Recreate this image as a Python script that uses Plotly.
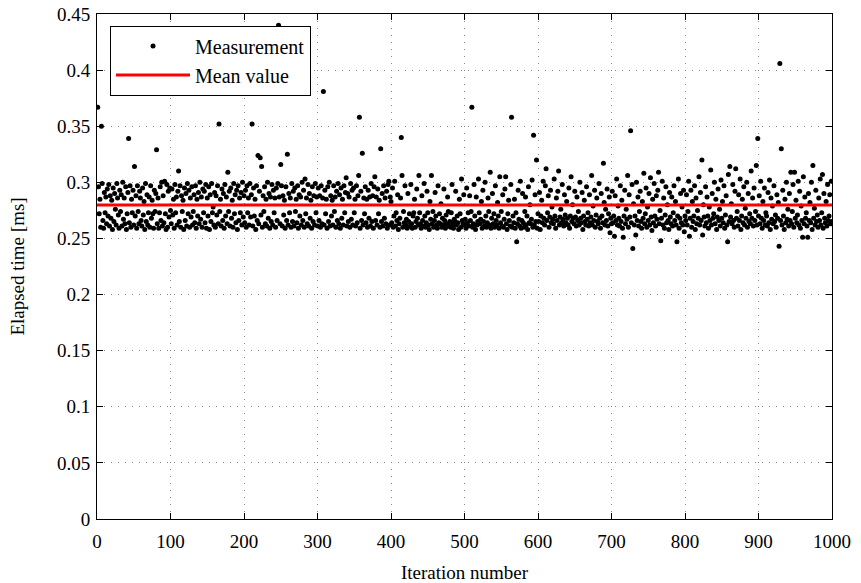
import plotly.graph_objects as go

# Elapsed time per iteration, in microseconds
elapsed_us_block0 = [
    367,296,272,285,260,350,299,266,259,291,
    273,287,263,294,270,298,261,288,268,284,
    258,295,265,290,276,262,299,286,271,259,
    293,274,289,261,300,267,286,263,296,258,
    272,291,339,264,297,260,285,273,293,262,
    314,270,288,259,297,274,263,292,286,266,
    261,295,271,283,258,299,265,289,262,273,
    287,260,297,268,284,272,259,293,274,290,
    329,263,286,259,273,296,266,300,261,288,
    264,301,272,258,298,260,292,269,295,275]
elapsed_us_block1 = [
    263,294,271,285,259,298,273,287,262,292,
    310,265,297,260,288,274,284,258,295,266,
    290,261,299,272,293,260,286,269,296,262,
    274,289,264,297,259,285,270,291,263,300,
    267,287,260,294,273,292,264,298,259,286,
    270,296,258,289,265,299,273,278,262,291,
    260,288,271,297,263,352,274,285,261,294,
    266,290,259,298,270,287,263,309,274,292,
    261,295,268,284,260,299,272,289,264,293,
    258,297,266,286,273,291,262,300,269,288]
elapsed_us_block2 = [
    264,293,260,297,273,286,262,299,269,289,
    352,261,295,270,285,258,297,266,324,263,
    292,322,271,314,260,288,274,296,263,285,
    261,300,268,290,259,287,265,298,262,293,
    273,286,260,295,266,299,440,287,263,316,
    297,261,288,271,284,259,296,266,325,262,
    290,273,286,260,299,265,292,261,295,274,
    285,264,297,259,289,270,287,262,300,266,
    293,260,303,272,286,263,298,261,290,268,
    284,259,296,265,288,262,299,273,287,261]
elapsed_us_block3 = [
    295,266,288,260,297,263,286,381,262,293,
    272,285,259,296,265,300,261,288,270,284,
    262,297,274,287,260,292,266,299,263,289,
    259,295,268,285,262,297,273,291,304,261,
    290,265,287,260,299,267,293,262,295,273,
    285,261,297,264,288,306,358,259,292,266,
    326,262,286,272,296,264,285,260,293,268,
    287,261,299,265,288,259,296,305,266,287,
    262,294,272,284,260,330,265,290,261,297,
    268,286,263,292,259,298,301,262,287,283]
elapsed_us_block4 = [
    264,295,260,270,301,261,273,266,289,258,
    263,268,286,340,306,260,274,264,297,262,
    267,259,290,265,272,261,298,263,259,270,
    273,285,260,265,294,268,262,306,273,263,
    259,288,266,261,299,270,260,264,292,273,
    262,258,283,267,306,263,274,260,266,291,
    270,262,259,297,264,272,263,281,260,268,
    262,294,266,259,271,263,287,274,261,265,
    260,273,298,263,259,267,265,292,262,270,
    264,258,285,272,260,303,266,263,289,262]
elapsed_us_block5 = [
    267,259,295,264,273,261,288,266,274,367,
    260,263,298,270,258,287,262,265,303,273,
    263,267,283,259,293,265,261,300,270,260,
    264,286,274,262,309,259,268,290,263,272,
    260,297,266,262,282,270,259,305,264,274,
    261,289,260,267,294,305,263,258,272,284,
    266,261,298,358,260,270,264,285,259,273,
    247,263,293,267,261,301,259,266,290,264,
    260,274,287,262,270,258,296,264,280,263,
    267,302,260,342,262,289,265,320,259,272]
elapsed_us_block6 = [
    265,291,258,270,284,264,301,268,262,297,
    312,266,273,288,260,269,293,264,278,267,
    263,303,270,259,286,266,292,310,262,269,
    276,264,298,267,261,289,271,264,283,268,
    262,295,259,270,305,265,280,268,263,292,
    269,261,287,266,274,262,300,268,264,291,
    258,270,284,265,262,296,267,273,261,289,
    264,269,306,262,279,266,293,260,271,286,
    265,263,299,268,259,290,270,264,317,282,
    262,276,266,294,261,272,287,255,268,263]
elapsed_us_block7 = [
    292,264,270,252,288,266,303,262,279,268,
    261,297,265,284,259,251,270,293,263,276,
    267,306,260,289,269,346,264,298,241,281,
    262,270,253,300,266,287,261,274,292,265,
    259,283,268,308,263,272,295,260,278,266,
    290,262,304,269,257,285,264,299,270,261,
    288,267,293,309,263,275,248,268,301,262,
    286,259,271,296,264,280,266,258,291,269,
    263,287,261,273,297,266,283,262,247,270,
    303,259,268,290,264,278,262,293,256,270]
elapsed_us_block8 = [
    266,289,262,274,301,252,268,293,260,283,
    265,270,297,258,286,263,275,268,305,262,
    291,266,320,253,280,269,261,296,264,287,
    270,259,278,266,311,262,290,268,272,300,
    263,285,258,269,294,266,276,261,302,268,
    283,264,297,259,271,288,262,247,307,265,
    314,269,281,263,298,266,260,292,312,268,
    274,261,289,266,303,258,270,285,264,296,
    262,277,268,300,260,290,265,272,263,310,
    268,286,261,295,266,274,315,262,339,270]
elapsed_us_block9 = [
    288,263,301,268,259,283,266,295,262,273,
    270,261,291,264,302,258,286,267,279,263,
    297,265,271,260,289,268,282,243,406,266,
    330,262,293,270,258,285,264,300,267,276,
    261,290,266,309,263,274,298,260,309,268,
    284,264,271,301,262,292,259,279,266,251,
    305,263,287,268,273,261,251,290,266,282,
    264,300,258,315,268,277,262,293,265,271,
    260,286,266,303,262,273,307,259,290,268,
    264,283,261,298,266,270,289,263,301,265]

mean_value_ms = 0.2797
mean_x_range = [0, 1000]

y_tick_vals = [0, 0.05, 0.1, 0.15, 0.2, 0.25, 0.3, 0.35, 0.4, 0.45]
y_tick_text = ["0", "0.05", "0.1", "0.15", "0.2", "0.25", "0.3", "0.35", "0.4", "0.45"]
x_tick_vals = [0, 100, 200, 300, 400, 500, 600, 700, 800, 900, 1000]

elapsed_us = (elapsed_us_block0 + elapsed_us_block1 + elapsed_us_block2 + elapsed_us_block3 +
              elapsed_us_block4 + elapsed_us_block5 + elapsed_us_block6 + elapsed_us_block7 +
              elapsed_us_block8 + elapsed_us_block9)
elapsed_ms = [v / 1000.0 for v in elapsed_us]
iterations = list(range(1, len(elapsed_ms) + 1))

font_family = "Liberation Serif"

fig = go.Figure()
fig.add_trace(go.Scatter(
    x=iterations, y=elapsed_ms, mode="markers", name="Measurement",
    marker=dict(color="black", size=5, line=dict(width=0)),
))
fig.add_trace(go.Scatter(
    x=mean_x_range, y=[mean_value_ms, mean_value_ms], mode="lines", name="Mean value",
    line=dict(color="#ff0000", width=3),
))

axis_common = dict(
    showline=True, linecolor="black", linewidth=1, mirror="ticks",
    ticks="inside", ticklen=6, tickcolor="black", tickwidth=1,
    showgrid=True, gridcolor="#888888", gridwidth=1, griddash="1px,6px",
    zeroline=False, automargin=False,
    tickfont=dict(family=font_family, size=19, color="black"),
)

fig.update_xaxes(range=[0, 1000], tickvals=x_tick_vals, ticklabelstandoff=5,
                 title=dict(text="Iteration number", font=dict(family=font_family, size=19, color="black"), standoff=14),
                 **axis_common)
fig.update_yaxes(range=[0, 0.45], tickvals=y_tick_vals, ticktext=y_tick_text, ticklabelstandoff=2,
                 title=dict(text="Elapsed time [ms]", font=dict(family=font_family, size=19, color="black"), standoff=27),
                 **axis_common)

fig.update_layout(
    width=861, height=583,
    margin=dict(l=97, r=29, t=14, b=64),
    plot_bgcolor="white", paper_bgcolor="white",
    font=dict(family=font_family, size=19, color="black"),
    showlegend=True,
    legend=dict(
        x=0.0177, y=0.977, xanchor="left", yanchor="top",
        bgcolor="white", bordercolor="black", borderwidth=1,
        font=dict(family=font_family, size=20, color="black"),
        itemwidth=74, tracegroupgap=0,
    ),
)

fig.write_html("out.html")
